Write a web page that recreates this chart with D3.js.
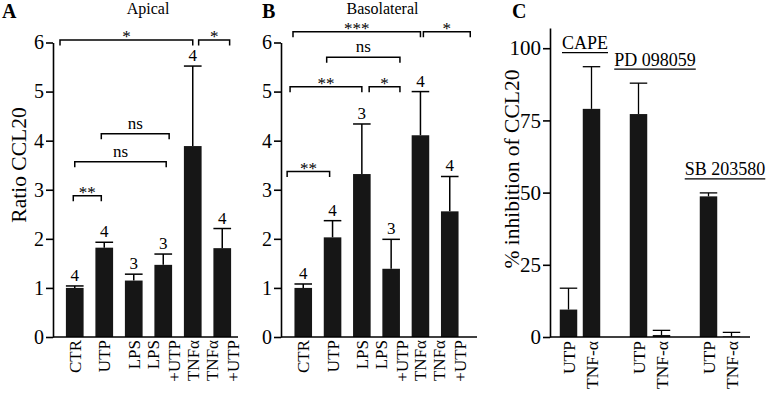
<!DOCTYPE html>
<html><head><meta charset="utf-8">
<script src="https://cdn.jsdelivr.net/npm/d3@7"></script>
<style>body{margin:0;background:#fff} svg{display:block}</style>
</head><body><svg id="c" width="768" height="395"></svg>
<script>
// ---------- data ----------
const categories = ["CTR", "UTP", "LPS", "LPS +UTP", "TNFα", "TNFα +UTP"];
const apicalValues = [1.0, 1.82, 1.15, 1.47, 3.89, 1.81];
const apicalSem = [0.04, 0.11, 0.13, 0.22, 1.63, 0.40];
const apicalN = [4, 4, 3, 3, 4, 4];
const basoValues = [1.0, 2.03, 3.32, 1.39, 4.11, 2.56];
const basoSem = [0.08, 0.34, 1.02, 0.60, 0.89, 0.71];
const basoN = [4, 4, 3, 3, 4, 4];
const ratioTicks = [0, 1, 2, 3, 4, 5, 6];
// significance brackets: [from category index, to category index, level (ratio), label]
const apicalBrackets = [[-0.5, 4, 6.05, "*"], [4.2, 5.25, 6.05, "*"], [0.9, 3.2, 4.14, "ns"], [0, 3.1, 3.57, "ns"], [-0.05, 0.9, 2.88, "**"]];
const basoBrackets = [[-0.35, 4, 6.22, "***"], [4.1, 5.7, 6.22, "*"], [0.8, 3.3, 5.7, "ns"], [-0.45, 2, 5.1, "**"], [2.25, 3.3, 5.1, "*"], [-0.55, 0.9, 3.37, "**"]];
const inhibitors = ["CAPE", "PD 098059", "SB 203580"];
const treatments = ["UTP", "TNF-α"];
const utpInhibition = [9.5, 77.2, 48.7];
const utpInhibitionSem = [7.4, 10.7, 1.2];
const tnfInhibition = [79.0, 0.7, 0.2];
const tnfInhibitionSem = [14.6, 1.6, 1.4];
const inhibitionTicks = [0, 25, 50, 75, 100];

// ---------- drawing ----------
const svg = d3.select("#c");
const F = "'Liberation Serif','Times New Roman',Times,serif";
const BAR = "#161616";
const SW = 1.6;

function styleAxis(ax, fs) {
  ax.select(".domain").attr("stroke", "#000").attr("stroke-width", SW);
  ax.selectAll(".tick line").attr("stroke", "#000").attr("stroke-width", SW);
  ax.selectAll(".tick text").attr("font-family", F).attr("font-size", fs).attr("fill", "#000");
}

function rotLabel(g, x, y, str, fs, anchor) {
  g.append("text").attr("transform", `translate(${x},${y}) rotate(-90)`)
    .attr("text-anchor", anchor).attr("font-family", F).attr("font-size", fs)
    .attr("dy", "0.35em").attr("fill", "#000").text(str);
}

function ratioPanel(o) {
  const g = svg.append("g");
  const x = d3.scaleBand().domain(categories).range(o.bandRange).paddingInner(0.4).paddingOuter(0.2);
  const y = d3.scaleLinear().domain([0, 6]).range([337, 42.5]);
  const bw = x.bandwidth();
  const xi = i => x(categories[0]) + bw / 2 + i * x.step();

  g.selectAll("rect").data(categories).join("rect")
    .attr("x", d => x(d)).attr("width", bw)
    .attr("y", (d, i) => y(o.values[i])).attr("height", (d, i) => y(0) - y(o.values[i]))
    .attr("fill", BAR);
  categories.forEach((c, i) => {
    const top = y(o.values[i] + o.sem[i]);
    const cx = x(c) + bw / 2;
    g.append("line").attr("x1", cx).attr("x2", cx).attr("y1", y(o.values[i])).attr("y2", top).attr("stroke", "#000").attr("stroke-width", 1.5);
    g.append("line").attr("x1", x(c)).attr("x2", x(c) + bw).attr("y1", top).attr("y2", top).attr("stroke", "#000").attr("stroke-width", 1.5);
    g.append("text").attr("x", cx).attr("y", top - 5).attr("text-anchor", "middle")
      .attr("font-family", F).attr("font-size", 17).text(o.n[i]);
    const lines = c.split(" ");
    lines.forEach((ln, li) => rotLabel(g, cx + (li - (lines.length - 1) / 2) * 21, 340, ln, 17, "end"));
  });
  const ax = g.append("g").attr("transform", `translate(${o.axisX},0)`)
    .call(d3.axisLeft(y).tickValues(ratioTicks).tickFormat(d3.format("d")).tickSize(7).tickPadding(2).tickSizeOuter(0));
  styleAxis(ax, 20);
  g.append("line").attr("x1", o.axisX).attr("x2", o.axisEnd).attr("y1", y(0)).attr("y2", y(0)).attr("stroke", "#000").attr("stroke-width", SW);
  o.brackets.forEach(([a, b, lvl, lab]) => {
    const ly = y(lvl), xa = xi(a), xb = xi(b);
    g.append("path").attr("d", `M${xa},${ly + 5.5}V${ly}H${xb}V${ly + 5.5}`)
      .attr("fill", "none").attr("stroke", "#000").attr("stroke-width", 1.5);
    g.append("text").attr("x", (xa + xb) / 2).attr("y", lab === "ns" ? ly - 5 : ly + 2)
      .attr("text-anchor", "middle").attr("font-family", F).attr("font-size", 17).text(lab);
  });
  g.append("text").attr("x", o.titleX).attr("y", 14).attr("text-anchor", "middle")
    .attr("font-family", F).attr("font-size", 16).text(o.title);
  g.append("text").attr("x", o.letterX).attr("y", 18).attr("font-family", F)
    .attr("font-weight", "bold").attr("font-size", 20).text(o.letter);
  return g;
}

const gA = ratioPanel({axisX: 53, axisEnd: 238, bandRange: [60, 237], values: apicalValues, sem: apicalSem, n: apicalN,
  brackets: apicalBrackets, title: "Apical", titleX: 148, letter: "A", letterX: 2});
rotLabel(gA, 18, 165, "Ratio CCL20", 21.5, "middle");
ratioPanel({axisX: 281, axisEnd: 477, bandRange: [288.6, 464.4], values: basoValues, sem: basoSem, n: basoN,
  brackets: basoBrackets, title: "Basolateral", titleX: 382.5, letter: "B", letterX: 262});

// ---------- panel C ----------
(function () {
  const g = svg.append("g");
  const xg = d3.scaleBand().domain(inhibitors).range([545, 755]);
  const xt = d3.scaleBand().domain(treatments).range([-23, 23]).paddingInner(0.24).paddingOuter(0.12);
  const y = d3.scaleLinear().domain([0, 107]).range([337, 28]);
  const bw = xt.bandwidth();
  const series = [[utpInhibition, utpInhibitionSem], [tnfInhibition, tnfInhibitionSem]];
  inhibitors.forEach((grp, gi) => {
    const gc = xg(grp) + xg.bandwidth() / 2;
    let maxTop = 0;
    treatments.forEach((t, ti) => {
      const v = series[ti][0][gi], s = series[ti][1][gi];
      const x0 = gc + xt(t), cx = x0 + bw / 2;
      maxTop = Math.max(maxTop, v + s);
      g.append("rect").attr("x", x0).attr("width", bw).attr("y", y(v)).attr("height", y(0) - y(v)).attr("fill", BAR);
      g.append("line").attr("x1", cx).attr("x2", cx).attr("y1", y(v)).attr("y2", y(v + s)).attr("stroke", "#000").attr("stroke-width", 1.3);
      g.append("line").attr("x1", x0).attr("x2", x0 + bw).attr("y1", y(v + s)).attr("y2", y(v + s)).attr("stroke", "#000").attr("stroke-width", 1.3);
      rotLabel(g, cx, 341, t, 17.5, "end");
    });
    const uy = y(maxTop) - 14;
    const tx = g.append("text").attr("x", gc + 5).attr("y", uy - 3.5).attr("text-anchor", "middle")
      .attr("font-family", F).attr("font-size", 18).text(grp);
    const bb = tx.node().getBBox();
    g.append("line").attr("x1", bb.x).attr("x2", bb.x + bb.width).attr("y1", uy).attr("y2", uy).attr("stroke", "#000").attr("stroke-width", 1.3);
  });
  const ax = g.append("g").attr("transform", "translate(550,0)")
    .call(d3.axisLeft(y).tickValues(inhibitionTicks).tickSize(7).tickPadding(2).tickSizeOuter(0));
  styleAxis(ax, 21);
  g.append("line").attr("x1", 550).attr("x2", 750).attr("y1", y(0)).attr("y2", y(0)).attr("stroke", "#000").attr("stroke-width", SW);
  rotLabel(g, 511, 169, "% inhibition of CCL20", 21.5, "middle");
  g.append("text").attr("x", 512).attr("y", 18).attr("font-family", F).attr("font-weight", "bold").attr("font-size", 20).text("C");
})();
</script>
</body></html>
